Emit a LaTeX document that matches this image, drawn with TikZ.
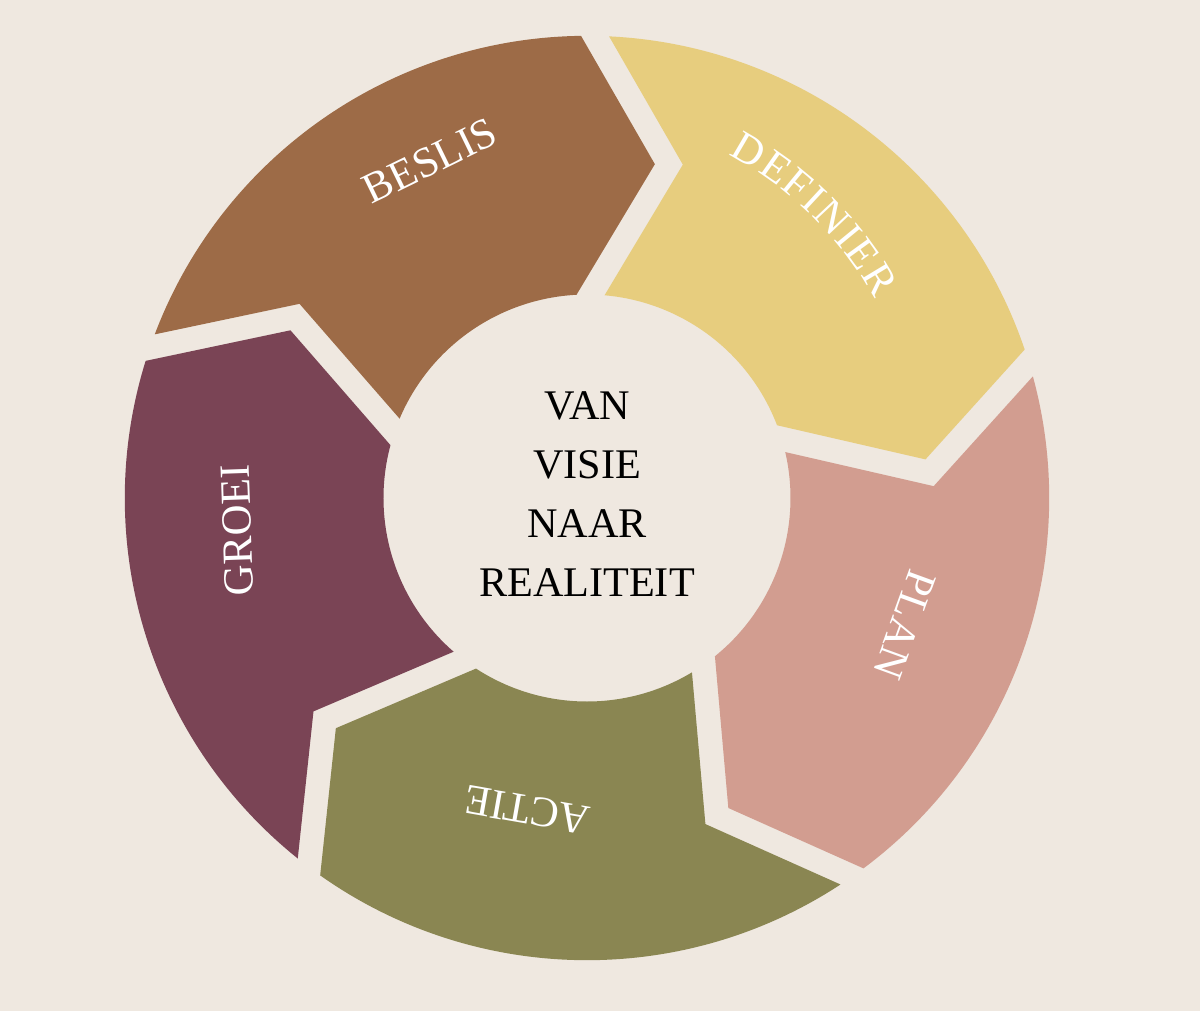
\documentclass[tikz,border=0pt]{standalone}
\usepackage{fontspec}
\setmainfont{Liberation Serif}
\usetikzlibrary{decorations.text}
\definecolor{bgbeige}{HTML}{EFE8E0}
\definecolor{segbeslis}{HTML}{9D6B47}
\definecolor{segdefinier}{HTML}{E7CD7E}
\definecolor{segplan}{HTML}{D29D90}
\definecolor{segactie}{HTML}{8A8652}
\definecolor{seggroei}{HTML}{7A4455}
\newcommand{\lblfont}{\fontsize{12.2}{15}\selectfont}
\begin{document}
\begin{tikzpicture}
  [x=0.01cm, y=0.01cm,
  seglabel/.style = {text=white, font=\lblfont, inner sep=0pt},
  ringlabel/.style = {decorate,
                      decoration = {text effects along path, text={#1}, text align=center,
                                    text effects/.cd, text along path,
                                    character widths={font=\lblfont, inner xsep=0.25pt, inner ysep=0pt},
                                    characters={text=white, font=\lblfont, inner xsep=0.25pt, inner ysep=0pt}}}]
  \fill[bgbeige] (-587,-513) rectangle (613,498);
  \useasboundingbox (-587,-513) rectangle (613,498);
  % chevron segments, clockwise
  \foreach \s/\col in {161/segbeslis, 89/segdefinier, 17/segplan, -55/segactie, -127/seggroei}{
    \pgfmathsetmacro{\e}{\s-72}
    \pgfmathsetmacro{\ao}{\s-1.74}
    \pgfmathsetmacro{\bo}{\e+1.74}
    \pgfmathsetmacro{\tip}{\e-10.49}
    \pgfmathsetmacro{\bi}{\e+3.95}
    \pgfmathsetmacro{\ai}{\s-3.95}
    \pgfmathsetmacro{\notch}{\s-15.04}
    \fill[\col] (\ao:462.2) arc[start angle=\ao, end angle=\bo, radius=462.2]
      -- (\tip:340.7) -- (\bi:203.5)
      arc[start angle=\bi, end angle=\ai, radius=203.5]
      -- (\notch:346.9) -- cycle;
  }
  % labels
  \node[seglabel, rotate=26] (beslis) at (-157,337) {BESLIS};
  \path[ringlabel=DEFINIER] ([shift={(-25,27)}]85.5:357) arc[start angle=85.5, end angle=5.5, radius=357];
  \node[seglabel, rotate=-110] (plan) at (318,-127) {PLAN};
  \node[seglabel, rotate=170] (actie) at (-60,-312) {ACTIE};
  \node[seglabel, rotate=92] (groei) at (-350,-32) {GROEI};
  \node[align=center, font=\fontsize{12}{16.8}\selectfont] (centre) at (0,4)
    {VAN\\VISIE\\NAAR\\REALITEIT};
\end{tikzpicture}
\end{document}
